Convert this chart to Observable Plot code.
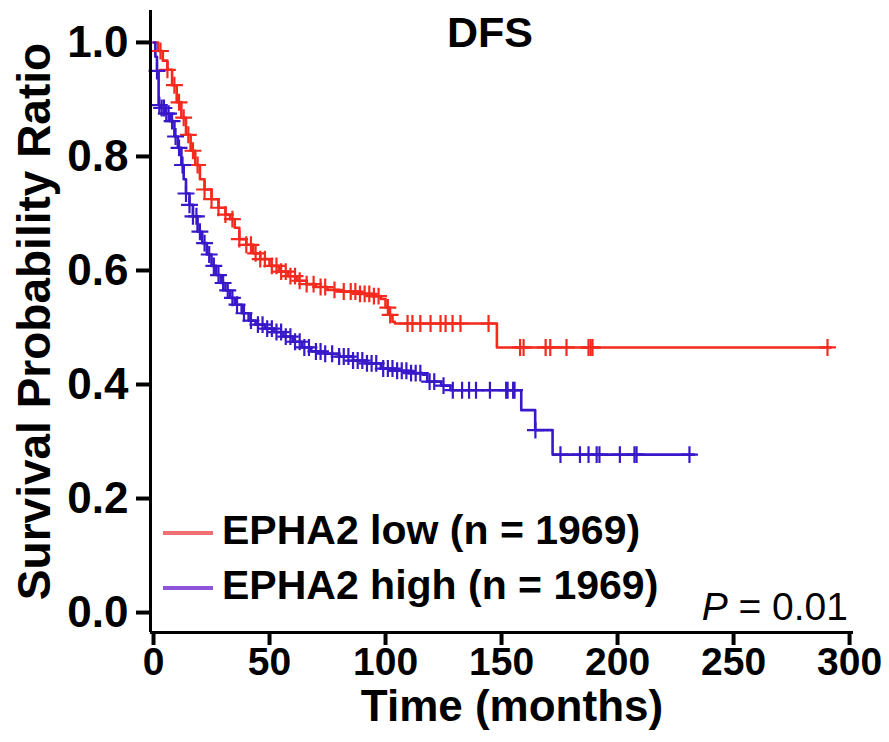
<!DOCTYPE html>
<html>
<head>
<meta charset="utf-8">
<script src="https://cdn.jsdelivr.net/npm/d3@7"></script>
<script src="https://cdn.jsdelivr.net/npm/@observablehq/plot@0.6"></script>
<style>
  body { margin: 0; background: #fff; font-family: "Liberation Sans", Arial, sans-serif; }
  #wrap { position: relative; width: 889px; height: 742px; }
  .leg { position: absolute; left: 163px; font-weight: bold; font-size: 41px; color: #000; white-space: nowrap; line-height: 1; }
  .leg span.sw { display: inline-block; width: 50px; height: 4px; vertical-align: middle; margin-right: 9px; }
  #pval { position: absolute; right: 41px; top: 587px; font-size: 39px; color: #000; line-height: 1; }
</style>
</head>
<body>
<div id="wrap"></div>
<script>
// Kaplan–Meier step curves (time in months, survival probability)
const lowTime = [0, 2, 4, 6, 8, 10, 12, 14, 16, 18, 20, 22, 25, 28, 31, 33, 35, 37, 40, 43, 46, 50, 54, 58, 62, 66, 70, 75, 80, 88, 94, 98, 100, 101.5, 103, 104, 148, 292];
const lowSurv = [1.0, 0.985, 0.968, 0.952, 0.925, 0.895, 0.868, 0.838, 0.81, 0.785, 0.76, 0.742, 0.725, 0.71, 0.698, 0.69, 0.675, 0.655, 0.645, 0.63, 0.62, 0.608, 0.598, 0.59, 0.582, 0.576, 0.571, 0.566, 0.563, 0.559, 0.555, 0.55, 0.535, 0.522, 0.51, 0.507, 0.465, 0.465];

const highTime = [0, 0.8, 1.5, 2.2, 3, 5, 7, 9, 10.5, 12, 13, 14, 15.5, 17, 19, 21, 23, 25, 27, 29, 31, 33, 35, 38, 41, 44, 48, 52, 56, 60, 64, 68, 74, 80, 86, 92, 98, 104, 110, 116, 118, 124, 128, 158.5, 164.5, 172, 233];
const highSurv = [1.0, 0.975, 0.95, 0.89, 0.885, 0.875, 0.862, 0.835, 0.815, 0.785, 0.76, 0.735, 0.715, 0.695, 0.668, 0.648, 0.628, 0.608, 0.592, 0.578, 0.565, 0.552, 0.54, 0.525, 0.512, 0.505, 0.498, 0.492, 0.484, 0.475, 0.465, 0.458, 0.454, 0.449, 0.442, 0.437, 0.428, 0.424, 0.42, 0.417, 0.405, 0.398, 0.39, 0.355, 0.32, 0.277, 0.277];

// Censoring times
const lowCensor = [3, 6, 9, 11, 13, 15, 17, 19, 22, 25, 28, 31, 34, 37, 40, 42, 44, 46, 48, 51, 53, 55, 57, 59, 61, 63, 66, 69, 72, 74, 78, 82, 85, 87, 89, 91, 93, 95, 97, 101, 102, 109.5, 111.6, 115, 119.4, 123.7, 125.9, 128.9, 132.3, 144.4, 158, 159.5, 169, 171, 178, 187.5, 188.4, 189.2, 290.5];
const highCensor = [1.5, 2.5, 3.5, 4.5, 5.5, 6.5, 8, 9.5, 11, 12.5, 14, 15.5, 17, 18.5, 20, 22, 24, 26, 28, 30, 32, 34, 36, 39, 42, 45, 47, 49, 51, 53, 55, 57, 59, 61, 63, 65, 67, 70, 72, 74, 77, 80, 82, 84, 86, 88, 90, 92, 94, 96, 99, 101, 103, 105, 107, 109, 111, 113, 115, 119, 121, 125, 129, 133, 136, 139, 145, 152, 152.6, 155, 155.6, 164.6, 175.4, 183.8, 187.5, 191, 192.2, 201, 207.3, 208.2, 231];

const groupNames = ["EPHA2 low (n = 1969)", "EPHA2 high (n = 1969)"];
const curveColors = ["#f42a1e", "#3818c8"];
const legendColors = ["#ef6f74", "#8c55dc"];
const xTicks = [0, 50, 100, 150, 200, 250, 300];
const yTicks = [0, 0.2, 0.4, 0.6, 0.8, 1.0];

function stepAt(times, surv, t) {
  let s = surv[0];
  for (let i = 0; i < times.length; i++) { if (times[i] <= t) s = surv[i]; else break; }
  return s;
}
const lowLine = lowTime.map((t, i) => ({t, s: lowSurv[i]}));
const highLine = highTime.map((t, i) => ({t, s: highSurv[i]}));
const lowMarks = lowCensor.map(t => ({t, s: stepAt(lowTime, lowSurv, t)}));
const highMarks = highCensor.map(t => ({t, s: stepAt(highTime, highSurv, t)}));

const xDom = [-1.3, 301.7];
const yDom = [-0.035, 1.056];

const chart = Plot.plot({
  width: 889,
  height: 742,
  marginLeft: 150,
  marginRight: 36,
  marginTop: 10,
  marginBottom: 110,
  style: { fontFamily: "'Liberation Sans', Arial, sans-serif", background: "#fff", overflow: "visible" },
  x: { domain: xDom },
  y: { domain: yDom },
  marks: [
    Plot.line(lowLine, { x: "t", y: "s", curve: "step-after", stroke: curveColors[0], strokeWidth: 2.6 }),
    Plot.line(highLine, { x: "t", y: "s", curve: "step-after", stroke: curveColors[1], strokeWidth: 2.6 }),
    Plot.dot(lowMarks, { x: "t", y: "s", symbol: "plus", r: 5.5, stroke: curveColors[0], strokeWidth: 2.2 }),
    Plot.dot(highMarks, { x: "t", y: "s", symbol: "plus", r: 5.5, stroke: curveColors[1], strokeWidth: 2.2 }),
    Plot.ruleY([yDom[0]], { stroke: "#000", strokeWidth: 3 }),
    Plot.ruleX([xDom[0]], { stroke: "#000", strokeWidth: 3 }),
    Plot.axisX({ ticks: xTicks, tickSize: 13, tickPadding: 2, strokeWidth: 4, fontSize: 39, fontWeight: "bold", label: null, tickFormat: d => String(d) }),
    Plot.axisY({ ticks: yTicks, tickSize: 14, tickPadding: 8, strokeWidth: 4, fontSize: 44, fontWeight: "bold", label: null, tickFormat: d3.format(".1f") }),
    Plot.text(["Time (months)"], { frameAnchor: "bottom", dx: 10, dy: 74, lineAnchor: "middle", fontSize: 44, fontWeight: "bold", fill: "#000" }),
    Plot.text(["Survival Probability Ratio"], { frameAnchor: "left", dx: -115, dy: 0, rotate: -90, textAnchor: "middle", lineAnchor: "middle", fontSize: 46, fontWeight: "bold", fill: "#000" }),
    Plot.text(["DFS"], { frameAnchor: "top", dx: -12, dy: 6, lineAnchor: "top", fontSize: 43, fontWeight: "bold", fill: "#000" })
  ]
});

const wrap = document.getElementById("wrap");
wrap.appendChild(chart);
groupNames.forEach((name, i) => {
  const d = document.createElement("div");
  d.className = "leg";
  d.style.top = (510 + i * 55) + "px";
  const sw = document.createElement("span");
  sw.className = "sw";
  sw.style.background = legendColors[i];
  d.appendChild(sw);
  d.appendChild(document.createTextNode(name));
  wrap.appendChild(d);
});
const p = document.createElement("div");
p.id = "pval";
p.innerHTML = "<i>P</i> = 0.01";
wrap.appendChild(p);
</script>
</body>
</html>
